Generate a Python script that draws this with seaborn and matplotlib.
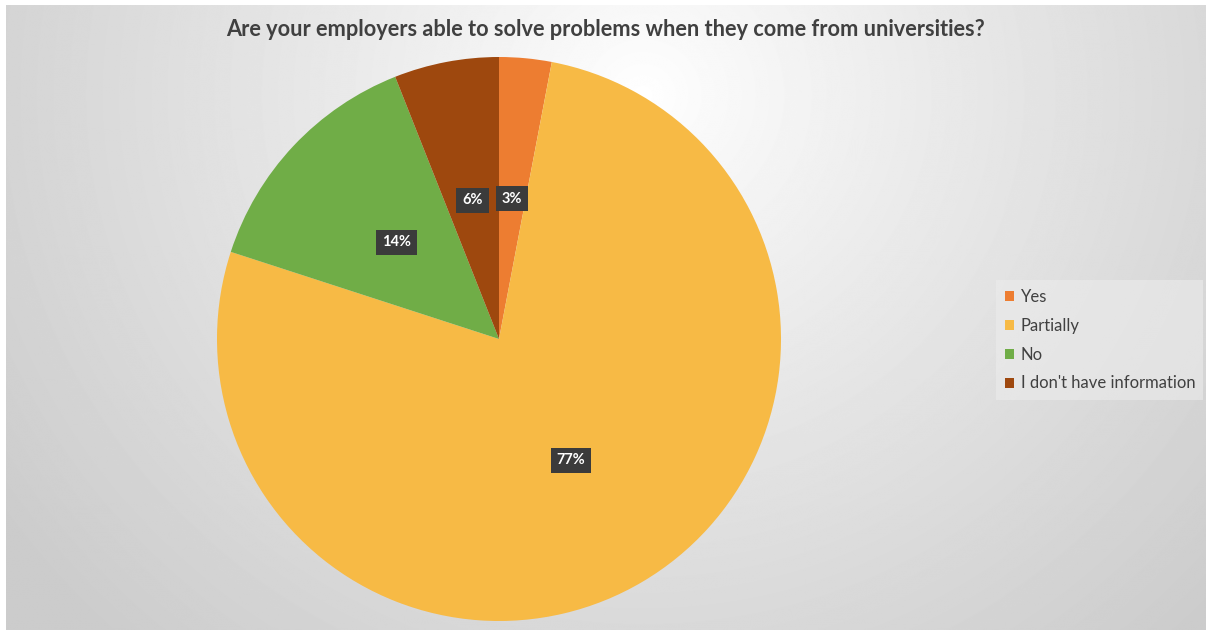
import numpy as np
import matplotlib
matplotlib.use("Agg")
import matplotlib.pyplot as plt
from matplotlib.patches import Patch
import seaborn as sns

# Survey answers and their shares (percent)
answers = ["Yes", "Partially", "No", "I don't have information"]
shares = [3, 77, 14, 6]
answer_colors = ["#ED7D31", "#F7BA45", "#70AD47", "#9E480E"]
title = "Are your employers able to solve problems when they come from universities?"

sns.set_theme(style="white")
plt.rcParams["font.family"] = ["Lato", "DejaVu Sans"]

W, H = 1206, 630
fig = plt.figure(figsize=(W / 100, H / 100), dpi=100)
fig.patch.set_facecolor("white")

# Radial grey gradient backdrop
bg = fig.add_axes([6 / W, 0, 1 - 6 / W, 1 - 5 / H])
bg.set_axis_off()
yy, xx = np.mgrid[0:H, 0:W]
cx, cy = 640, 90
dist = np.hypot(xx - cx, (yy - cy) * 1.05)
shade = 1.0 - 0.20 * np.clip(dist / 780, 0, 1) ** 0.9
bg.imshow(shade, cmap="gray", vmin=0, vmax=1, aspect="auto",
          extent=[0, 1, 0, 1], origin="upper", interpolation="bilinear")

# Pie axes: centre (499, 339) px, radius 282 px
cxp, cyp, r = 499, 339, 282
ax = fig.add_axes([(cxp - r) / W, (H - cyp - r) / H, 2 * r / W, 2 * r / H])
ax.set_axis_off()
wedges, texts, autotexts = ax.pie(
    shares, colors=answer_colors, startangle=90, counterclock=False,
    radius=1.0, autopct=lambda p: f"{p:.0f}%", pctdistance=0.5,
    wedgeprops=dict(linewidth=0),
    textprops=dict(color="white", fontsize=10.5, fontweight="bold"),
)
ax.set_xlim(-1, 1)
ax.set_ylim(-1, 1)
ax.set_aspect("equal")
for t in autotexts:
    t.set_bbox(dict(boxstyle="square,pad=0.4", facecolor="#3b3b3b",
                    edgecolor="none"))

fig.text(0.5 + 6 / W / 2, 1 - 30 / H, title, ha="center", va="center",
         fontsize=15.7, fontweight="bold", color="#404040")

handles = [Patch(facecolor=c, edgecolor="none") for c in answer_colors]
leg = fig.legend(handles, answers, loc="center left",
                 bbox_to_anchor=(988 / W, 1 - 340 / H), frameon=True,
                 fontsize=12, labelcolor="#404040", handlelength=0.55,
                 handleheight=0.55, handletextpad=0.4, labelspacing=0.78,
                 borderpad=0.5, fancybox=False)
leg.get_frame().set_facecolor("#ececec")
leg.get_frame().set_edgecolor("none")
leg.get_frame().set_alpha(0.6)

fig.savefig("out.png", dpi=100)
